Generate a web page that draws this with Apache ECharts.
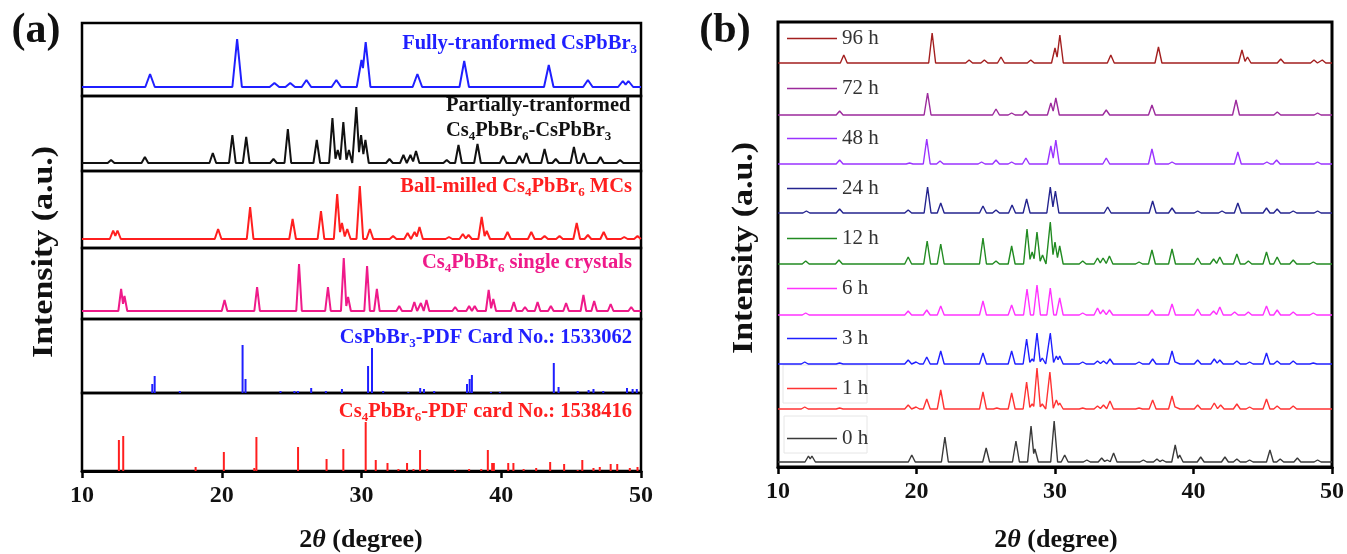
<!DOCTYPE html>
<html>
<head>
<meta charset="utf-8">
<title>XRD patterns</title>
<script src="https://cdn.jsdelivr.net/npm/echarts@6/dist/echarts.min.js"></script>
<style>
  html, body { margin: 0; padding: 0; background: #fff; }
  #chart { width: 1347px; height: 554px; }
</style>
</head>
<body>
<div id="chart"></div>
<script>
// 2θ axis
const xMin = 10, xMax = 50, xStep = 10;

// panel (a): peaks as [2θ, intensity]
const fullyCsPbBr3 = [[14.87,13],[21.1,48],[23.77,4],[24.9,4],[26.06,7],[28.2,7],[30.0,27],[30.3,45],[34.0,13],[37.35,26],[43.4,22],[46.2,7],[48.7,6],[49.1,6]];
const partially = [[12.08,3],[14.5,6],[19.36,10],[20.76,28],[21.75,26],[23.7,4],[24.73,34],[26.8,23],[27.92,45],[28.3,13],[28.7,41],[29.1,13],[29.63,56],[29.97,28],[30.28,23],[32.0,4],[33.0,8],[33.5,8],[33.9,12],[36.1,3],[36.94,18],[38.3,19],[40.14,7],[41.3,7],[41.8,10],[43.1,14],[43.9,4],[45.2,16],[45.9,10],[47.1,6],[48.5,3]];
const ballMilled = [[12.23,8.5],[12.54,8.5],[19.74,10],[22.03,32],[25.07,20],[27.1,28],[28.26,45],[28.6,16],[28.98,10],[29.88,53],[30.6,10],[32.26,3],[33.3,6],[33.8,7],[34.15,12],[36.26,2],[37.25,5],[37.66,4],[38.6,22],[38.96,8],[40.45,7],[42.15,7],[43.1,3],[44.17,3],[45.4,16],[46.2,4],[47.33,7],[48.8,2],[49.75,3]];
const singleCrystals = [[12.8,22],[13.04,15],[20.2,11],[22.53,24],[25.53,47],[27.6,24],[28.73,53],[29.04,14],[30.4,45],[31.1,22],[32.7,5],[33.78,9],[34.25,8],[34.65,11],[36.7,4],[37.7,5],[38.1,5],[39.1,21],[39.43,12],[40.9,9],[41.7,4],[42.6,9],[43.55,5],[44.64,8],[45.88,16],[46.65,10],[47.83,7],[49.3,4]];
const pdfCsPbBr3 = [[15.03,9],[15.2,17],[17.0,2],[21.49,48],[21.7,14],[24.2,2],[25.2,2],[25.45,2],[26.4,5],[27.45,2],[28.6,4],[30.47,27],[30.75,45],[31.55,2],[33.35,1],[34.2,5],[34.47,4],[35.2,2],[37.55,9],[37.74,14],[37.9,18],[39.26,1],[39.9,1],[43.76,30],[44.1,6],[45.47,2],[46.25,3],[46.6,4],[47.3,2],[49.0,5],[49.4,4],[49.7,4]];
const pdfCs4PbBr6 = [[12.64,31],[12.95,35],[18.13,4],[20.15,19],[22.33,3],[22.48,34],[25.46,24],[27.5,12],[28.7,22],[30.3,49],[31.02,11],[31.86,8],[32.64,2],[33.26,8],[33.72,2],[34.19,21],[34.7,2],[36.7,1],[37.7,2],[38.57,2],[39.04,21],[39.35,8],[39.47,8],[40.5,8],[40.87,8],[41.6,2],[42.5,3],[43.5,9],[44.5,7],[45.47,1],[45.8,11],[46.6,3],[47.05,4],[47.83,7],[48.3,7],[49.2,3],[49.75,4]];

// panel (b): time series, same format
const h96 = [[14.75,8],[21.13,30],[23.8,3],[24.9,3],[26.1,6],[28.25,3],[30.0,15],[30.35,28],[34.03,8],[37.47,16],[43.5,13],[43.9,6],[46.3,4],[48.7,3],[49.3,3]];
const h72 = [[14.45,4],[20.8,22],[25.74,6],[26.87,2],[27.9,4],[29.7,12],[30.06,17],[33.7,5],[37.0,10],[43.07,15],[46.05,3],[48.96,2]];
const h48 = [[14.45,4],[19.5,1],[20.74,25],[21.7,3],[24.7,2],[25.74,4],[26.87,2],[27.9,6],[29.7,18],[30.06,24],[33.7,6],[37.0,15],[38.45,2],[43.2,12],[45.3,2],[46.0,4],[48.96,2]];
const h24 = [[12.05,2],[14.45,4],[19.4,3],[20.8,26],[21.75,10],[24.8,7],[25.74,3],[26.9,8],[27.95,14],[29.66,26],[30.03,22],[33.8,6],[37.05,12],[38.45,5],[40.3,2],[42.06,2],[43.2,10],[45.27,5],[46.04,4],[47.2,2],[48.96,2]];
const h12 = [[12.0,3],[14.4,4],[19.4,7],[20.77,23],[21.75,20],[24.8,26],[25.74,3],[26.87,18],[27.98,35],[28.35,12],[28.7,32],[29.1,9],[29.66,42],[30.0,22],[30.34,18],[32.0,3],[33.07,6],[33.47,6],[33.93,8],[36.07,2],[37.0,14],[38.45,15],[40.3,6],[41.45,5],[41.9,7],[43.13,10],[43.96,3],[45.27,12],[46.04,7],[47.2,4],[48.65,2]];
const h6 = [[12.0,2],[19.4,4],[20.74,5],[21.75,9],[24.8,14],[26.87,10],[27.98,26],[28.7,30],[29.66,27],[30.34,17],[32.0,2],[33.07,7],[33.47,5],[33.93,5],[37.0,5],[38.45,11],[40.3,6],[41.45,4],[41.9,8],[42.97,3],[43.96,3],[45.27,9],[46.04,5],[47.2,3],[48.65,2]];
const h3 = [[11.93,2],[14.45,1],[19.4,4],[19.97,2],[20.74,7],[21.75,13],[24.8,11],[26.87,13],[27.95,25],[28.35,5],[28.7,31],[29.08,6],[29.66,31],[30.1,8],[30.34,8],[32.0,2],[33.07,3],[33.5,3],[33.97,5],[36.07,2],[37.05,5],[38.45,13],[38.77,4],[40.3,4],[41.5,5],[41.9,4],[43.13,3],[44.05,2],[45.27,11],[46.04,3],[47.2,3],[48.65,1]];
const h1 = [[11.93,2],[14.45,1],[19.4,4],[19.97,2],[20.74,10],[21.75,19],[24.8,17],[25.8,1],[26.87,16],[27.95,27],[28.35,5],[28.7,41],[29.08,5],[29.63,37],[30.1,9],[30.34,6],[32.0,1],[33.07,3],[33.5,4],[33.97,8],[36.07,1],[37.05,9],[38.45,13],[38.77,4],[40.3,4],[41.5,6],[41.96,4],[43.13,5],[44.05,2],[45.27,10],[46.04,3],[47.2,3]];
const h0 = [[12.2,6],[12.45,6],[19.66,7],[22.05,25],[25.03,14],[27.18,21],[28.27,36],[28.55,13],[29.94,41],[30.7,7],[32.3,2],[33.37,4],[33.77,2],[34.23,9],[36.38,2],[37.36,3],[37.76,2],[38.68,17],[39.0,7],[40.52,5],[42.27,5],[43.13,3],[44.05,2],[45.52,12],[46.26,3],[47.5,4],[48.96,2]];

const timeNames = ['96 h', '72 h', '48 h', '24 h', '12 h', '6 h', '3 h', '1 h', '0 h'];
const timeData = [h96, h72, h48, h24, h12, h6, h3, h1, h0];
const timeOffsets = [404, 352, 303, 254, 203, 152, 103, 58, 5];

const FONT = '"Liberation Serif", "DejaVu Serif", serif';

// peak list -> polyline (triangles, overlapping ones joined where they cross)
function valley(a, b, w) {
    if (b[0] - w >= a[0] + w) return null;
    const x = (a[1] - b[1] + a[1] * a[0] / w + b[1] * b[0] / w) / (a[1] / w + b[1] / w);
    if (x <= a[0] || x >= b[0]) return null;
    return [x, Math.max(0, a[1] * (1 - (x - a[0]) / w))];
}
function profile(peaks, w, base) {
    const ps = peaks.slice().sort((a, b) => a[0] - b[0]);
    const pts = [[xMin, 0]];
    ps.forEach((p, i) => {
        const lv = i > 0 ? valley(ps[i - 1], p, w) : null;
        if (!lv) pts.push([p[0] - w, 0]);
        pts.push([p[0], p[1]]);
        const rv = i < ps.length - 1 ? valley(p, ps[i + 1], w) : null;
        pts.push(rv || [p[0] + w, 0]);
    });
    pts.push([xMax, 0]);
    return pts.map(d => [d[0], d[1] + base]);
}

// panel (a) layout
const aTops = [23, 96, 171, 248, 319, 393];
const aHeights = [73, 75, 77, 71, 74, 78];
const aPatterns = [
    {data: fullyCsPbBr3, color: '#1f1fff', type: 'line', w: 0.34, base: 9},
    {data: partially, color: '#111111', type: 'line', w: 0.24, base: 8},
    {data: ballMilled, color: '#ff1f1f', type: 'line', w: 0.24, base: 9},
    {data: singleCrystals, color: '#ef1a8a', type: 'line', w: 0.2, base: 8},
    {data: pdfCsPbBr3, color: '#1f1fff', type: 'bar'},
    {data: pdfCs4PbBr6, color: '#ff1f1f', type: 'bar'}
];
const bColors = ['#a31f1f', '#9c2a9c', '#9a33ff', '#24248f', '#228b22', '#ff33ff', '#1f1fff', '#ff3333', '#3a3a3a'];

const grids = [], xAxes = [], yAxes = [], series = [];
const bottomAxis = {
    axisLine: {show: true, lineStyle: {color: '#000', width: 3}},
    axisTick: {show: true, length: 7, lineStyle: {color: '#000', width: 2.5}},
    axisLabel: {show: true, color: '#111', fontSize: 24, fontWeight: 'bold', fontFamily: FONT, margin: 13}
};

aPatterns.forEach((p, i) => {
    grids.push({left: 82, width: 559, top: aTops[i], height: aHeights[i], show: true,
        borderColor: '#000', borderWidth: 2.5});
    const last = i === aPatterns.length - 1;
    xAxes.push(Object.assign({type: 'value', gridIndex: i, min: xMin, max: xMax, interval: xStep,
        splitLine: {show: false}}, last ? bottomAxis : {axisLine: {show: false}, axisTick: {show: false}, axisLabel: {show: false}}));
    yAxes.push({type: 'value', gridIndex: i, min: 0, max: aHeights[i], show: false, splitLine: {show: false}});
    if (p.type === 'line') {
        series.push({type: 'line', xAxisIndex: i, yAxisIndex: i, data: profile(p.data, p.w, p.base),
            symbol: 'none', lineStyle: {color: p.color, width: 2}, itemStyle: {color: p.color}, silent: true});
    } else {
        series.push({type: 'bar', xAxisIndex: i, yAxisIndex: i, data: p.data, barWidth: 2,
            itemStyle: {color: p.color}, silent: true});
    }
});

// panel (b)
grids.push({left: 778, width: 557, top: 22, height: 445, show: true, borderColor: '#000', borderWidth: 3});
xAxes.push(Object.assign({type: 'value', gridIndex: 6, min: xMin, max: xMax, interval: xStep, splitLine: {show: false}}, bottomAxis));
yAxes.push({type: 'value', gridIndex: 6, min: 0, max: 445, show: false, splitLine: {show: false}});
timeNames.forEach((name, i) => {
    series.push({name: name, type: 'line', xAxisIndex: 6, yAxisIndex: 6,
        data: profile(timeData[i], 0.25, timeOffsets[i]), symbol: 'none',
        lineStyle: {color: bColors[i], width: 1.4}, itemStyle: {color: bColors[i]}, silent: true});
});

function txt(x, y, text, color, size, align, extra, weight) {
    const fw = weight || 'bold';
    return Object.assign({type: 'text', x: x, y: y, z: 10, style: {
        text: text, fill: color, fontSize: size, fontFamily: FONT, fontWeight: fw,
        align: align, verticalAlign: 'middle',
        rich: {
            n: {fontSize: size, fontFamily: FONT, fontWeight: fw, fill: color},
            s: {fontSize: Math.round(size * 0.65), fontFamily: FONT, fontWeight: fw, fill: color,
                padding: [Math.round(size * 0.6), 0, 0, 0]},
            i: {fontSize: size, fontFamily: FONT, fontWeight: fw, fontStyle: 'italic', fill: color}
        }
    }}, extra || {});
}

const graphics = [
    txt(36, 31, '(a)', '#111', 42, 'center'),
    txt(725, 31, '(b)', '#111', 42, 'center'),
    txt(45, 252, 'Intensity (a.u.)', '#111', 29, 'center', {rotation: Math.PI / 2, scaleX: 1.17}),
    txt(745, 248, 'Intensity (a.u.)', '#111', 29, 'center', {rotation: Math.PI / 2, scaleX: 1.17}),
    txt(361, 540, '{n|2}{i|θ}{n| (degree)}', '#111', 26, 'center'),
    txt(1056, 540, '{n|2}{i|θ}{n| (degree)}', '#111', 26, 'center'),
    txt(637, 44, '{n|Fully-tranformed CsPbBr}{s|3}', '#1f1fff', 20.5, 'right'),
    txt(446, 106, '{n|Partially-tranformed}', '#111', 20.5, 'left'),
    txt(446, 131, '{n|Cs}{s|4}{n|PbBr}{s|6}{n|-CsPbBr}{s|3}', '#111', 20.5, 'left'),
    txt(632, 187, '{n|Ball-milled Cs}{s|4}{n|PbBr}{s|6}{n| MCs}', '#ff1f1f', 20.5, 'right'),
    txt(632, 263, '{n|Cs}{s|4}{n|PbBr}{s|6}{n| single crystals}', '#ef1a8a', 20.5, 'right'),
    txt(632, 338, '{n|CsPbBr}{s|3}{n|-PDF Card No.: 1533062}', '#1f1fff', 20.5, 'right'),
    txt(632, 412, '{n|Cs}{s|4}{n|PbBr}{s|6}{n|-PDF card No.: 1538416}', '#ff1f1f', 20.5, 'right'),
    {type: 'rect', z: 1, shape: {x: 783, y: 365, width: 84, height: 38}, style: {fill: 'none', stroke: '#e6e6e6', lineWidth: 1}},
    {type: 'rect', z: 1, shape: {x: 784, y: 416, width: 83, height: 37}, style: {fill: 'none', stroke: '#e6e6e6', lineWidth: 1}}
];

const chart = echarts.init(document.getElementById('chart'));
chart.setOption({
    animation: false,
    backgroundColor: '#fff',
    grid: grids,
    xAxis: xAxes,
    yAxis: yAxes,
    series: series,
    legend: {
        data: timeNames.map(n => ({name: n, icon: 'rect'})),
        orient: 'vertical', left: 782, top: 23,
        itemWidth: 50, itemHeight: 1.6, itemGap: 29,
        textStyle: {fontFamily: FONT, fontSize: 21, color: '#333'},
        selectedMode: false
    },
    graphic: graphics
});
</script>
</body>
</html>
